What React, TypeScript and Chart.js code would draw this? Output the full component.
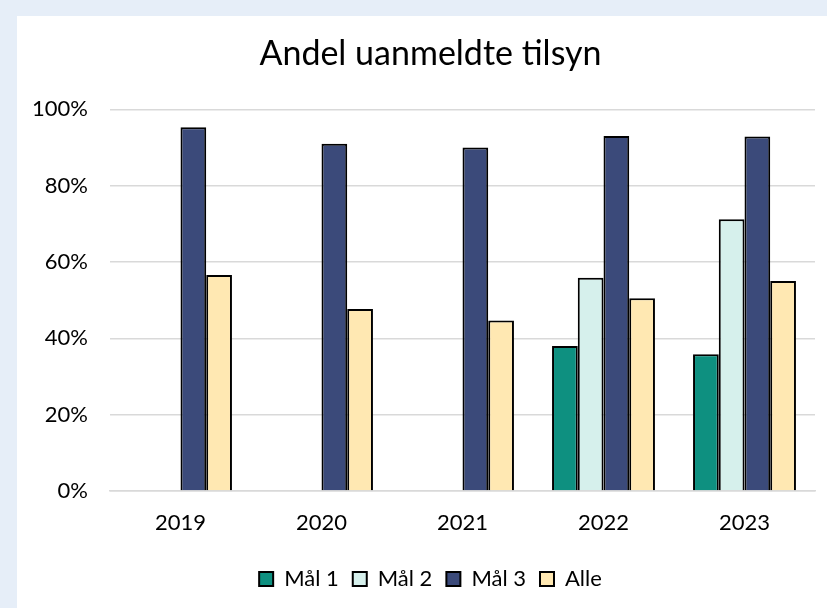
import React, { useEffect, useRef } from "react";
import { Chart, registerables } from "chart.js";

Chart.register(...registerables);

const categories = ["2019", "2020", "2021", "2022", "2023"];
const mal1 = [null, null, null, 38.0, 35.8];
const mal2 = [null, null, null, 55.9, 71.2];
const mal3 = [95.3, 91.0, 90.0, 93.0, 92.9];
const alle = [56.6, 47.7, 44.7, 50.5, 55.0];
const seriesNames = ["Mål 1", "Mål 2", "Mål 3", "Alle"];
const yTicks = [0, 20, 40, 60, 80, 100];

const FONT = "Lato, 'Open Sans', sans-serif";

export default function App() {
  const ref = useRef<HTMLCanvasElement | null>(null);
  useEffect(() => {
    if (!ref.current) return;
    const colors = ["#0E9080", "#D6F0EC", "#3B4A7A", "#FFE8B2"];
    const data = [mal1, mal2, mal3, alle];
    const chart = new Chart(ref.current, {
      type: "bar",
      data: {
        labels: categories,
        datasets: seriesNames.map((n, i) => ({
          label: n,
          data: data[i] as any,
          backgroundColor: colors[i],
          borderColor: "#000000",
          borderWidth: 2,
          barPercentage: 1,
          categoryPercentage: 0.73,
          yAxisID: "y",
        })),
      },
      options: {
        animation: false,
        responsive: false,
        layout: { padding: { left: 0, right: 0, top: 0, bottom: 8 } },
        plugins: {
          title: {
            display: true,
            text: "Andel uanmeldte tilsyn",
            color: "#000",
            font: { family: FONT, size: 34, weight: "normal" },
            padding: { top: 18, bottom: 34.5 },
          },
          legend: {
            position: "bottom",
            labels: {
              color: "#000",
              font: { family: FONT, size: 22 },
              boxWidth: 14,
              boxHeight: 14,
              padding: 14,
            },
          },
          tooltip: { enabled: false },
        },
        scales: {
          x: {
            grid: { display: false, drawTicks: false },
            border: { display: true, color: "#D9D9D9", width: 1.5 },
            ticks: { color: "#000", font: { family: FONT, size: 22 }, padding: 19 },
            afterFit: (s: any) => { s.height = 63; },
          },
          y: {
            min: 0,
            max: 100,
            afterBuildTicks: (s: any) => { s.ticks = yTicks.map((v) => ({ value: v })); },
            grid: { color: "#D9D9D9", lineWidth: 1.5, drawTicks: false },
            border: { display: false },
            ticks: {
              color: "#000",
              font: { family: FONT, size: 22 },
              padding: 22,
              callback: (v: any) => v + "%",
            },
            afterFit: (s: any) => { s.width = 93; },
          },
          spacer: {
            type: "linear",
            position: "right",
            min: 0,
            max: 100,
            grid: { display: false, drawTicks: false },
            border: { display: false },
            ticks: { display: false },
            afterFit: (s: any) => { s.width = 29; },
          },
        },
      },
    });
    return () => chart.destroy();
  }, []);
  return (
    <div style={{ position: "fixed", inset: 0, background: "#E6EEF8", overflow: "hidden" }}>
      <div style={{ position: "absolute", left: 17, top: 16, width: 810, height: 592, background: "#fff", overflow: "hidden" }}>
        <canvas ref={ref} width={827} height={592} style={{ display: "block" }} />
      </div>
    </div>
  );
}
